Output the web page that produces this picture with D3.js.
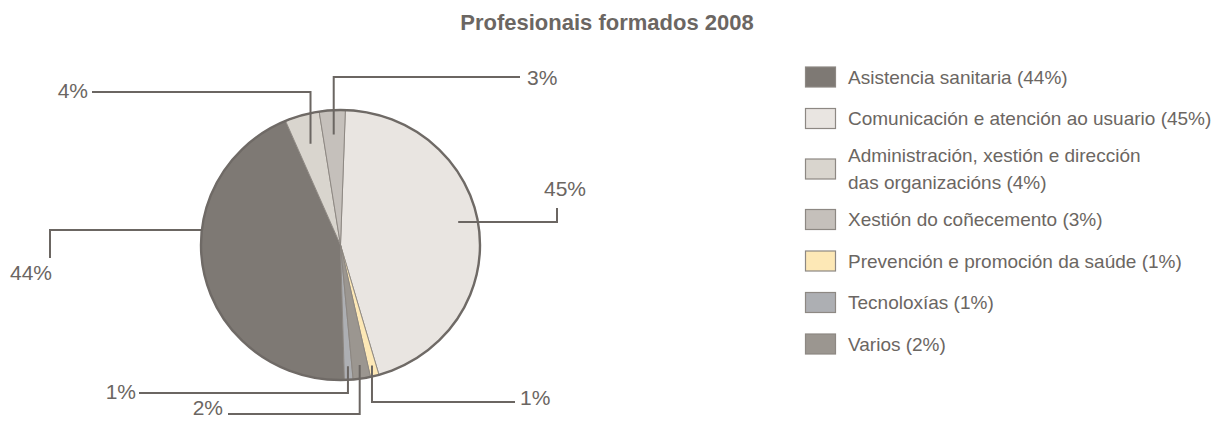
<!DOCTYPE html>
<html>
<head>
<meta charset="utf-8">
<script src="https://cdn.jsdelivr.net/npm/d3@7"></script>
<style>
  body { margin: 0; background: #fff; }
  svg { display: block; font-family: "Liberation Sans", Arial, sans-serif; }
</style>
</head>
<body>
<svg id="chart" width="1214" height="421"></svg>
<script>
// data, in legend order
const categories = [
  ['Asistencia sanitaria (44%)'],
  ['Comunicación e atención ao usuario (45%)'],
  ['Administración, xestión e dirección', 'das organizacións (4%)'],
  ['Xestión do coñecemento (3%)'],
  ['Prevención e promoción da saúde (1%)'],
  ['Tecnoloxías (1%)'],
  ['Varios (2%)']
];
const shares = [44, 45, 4, 3, 1, 1, 2];
const colors = ['#7e7974', '#e9e5e1', '#d9d5ce', '#c5c0bb', '#fde8b6', '#adafb3', '#9b9690'];
// clockwise order of slices, starting at twelve o'clock
const sliceOrder = [1, 4, 6, 5, 0, 2, 3];

const ink = '#6b6662';
const svg = d3.select('svg#chart');

svg.append('text')
  .attr('x', 607).attr('y', 30)
  .attr('text-anchor', 'middle')
  .attr('font-size', 22).attr('font-weight', 'bold')
  .attr('fill', ink)
  .text('Profesionais formados 2008');

// pie
const cx = 340.5, cy = 245, rx = 139.5, ry = 135;
const sy = ry / rx;
const deg = Math.PI / 180;

const pie = d3.pie()
  .value(i => shares[i])
  .sort((a, b) => sliceOrder.indexOf(a) - sliceOrder.indexOf(b))
  .startAngle(2 * deg)
  .endAngle(362 * deg);
const arcs = pie(d3.range(shares.length));
const arc = d3.arc().innerRadius(0).outerRadius(rx);

const g = svg.append('g')
  .attr('transform', `translate(${cx},${cy}) scale(1,${sy})`);

g.selectAll('path.slice').data(arcs)
  .enter().append('path')
    .attr('class', 'slice')
    .attr('d', arc)
    .attr('fill', d => colors[d.data])
    .attr('stroke', '#8a857f')
    .attr('stroke-width', 0.9)
    .attr('vector-effect', 'non-scaling-stroke');

g.append('ellipse')
  .attr('rx', rx).attr('ry', rx)
  .attr('fill', 'none')
  .attr('stroke', '#6f6a66')
  .attr('stroke-width', 2.4)
  .attr('vector-effect', 'non-scaling-stroke');

// point inside slice i, in page coords
const anchor = (i, k) => {
  const a = arcs.find(d => d.data === i);
  const m = (a.startAngle + a.endAngle) / 2;
  return [cx + Math.sin(m) * rx * k, cy - Math.cos(m) * ry * k];
};
const edgeX = (y) => cx - rx * Math.sqrt(1 - ((y - cy) / ry) ** 2);

const leaders = [];
const labels = [];
const pct = i => shares[i] + '%';

// small slices: label line runs level, then drops into the slice
const vertical = [
  { i: 2, level: 92, from: 92, tx: 88, ty: 98, anchorEnd: 'end', k: 0.78 },
  { i: 3, level: 77, from: 520, tx: 527, ty: 85, anchorEnd: 'start', k: 0.82 },
  { i: 5, level: 393, from: 139, tx: 136, ty: 399, anchorEnd: 'end', k: 0.9 },
  { i: 6, level: 414, from: 228, tx: 223, ty: 415, anchorEnd: 'end', k: 0.9 },
  { i: 4, level: 402, from: 515, tx: 520, ty: 405, anchorEnd: 'start', k: 0.92 }
];
vertical.forEach(v => {
  const [ax, ay] = anchor(v.i, v.k);
  leaders.push([[v.from, v.level], [ax, v.level], [ax, ay]]);
  labels.push({ x: v.tx, y: v.ty, anchor: v.anchorEnd, text: pct(v.i) });
});

// Comunicación
{
  const [ax, ay] = anchor(1, 0.85);
  const ly = ay - 9;
  leaders.push([[ax, ly], [557, ly], [557, ly - 14]]);
  labels.push({ x: 565, y: 196, anchor: 'middle', text: pct(1) });
}
// Asistencia
{
  const ly = 230;
  leaders.push([[50, ly + 28], [50, ly], [edgeX(ly), ly]]);
  labels.push({ x: 31, y: 280, anchor: 'middle', text: pct(0) });
}

svg.append('g').selectAll('path').data(leaders)
  .enter().append('path')
    .attr('d', d3.line())
    .attr('fill', 'none')
    .attr('stroke', ink)
    .attr('stroke-width', 2);

svg.append('g').selectAll('text').data(labels)
  .enter().append('text')
    .attr('x', d => d.x).attr('y', d => d.y)
    .attr('text-anchor', d => d.anchor)
    .attr('font-size', 21)
    .attr('fill', ink)
    .text(d => d.text);

// legend
const legend = svg.append('g').attr('transform', 'translate(805,0)');
let y = 77;
categories.forEach((lines, i) => {
  if (i > 0) y += 41.5 + 9 * (lines.length - 1) + 9 * (categories[i - 1].length - 1);
  const row = legend.append('g').attr('transform', `translate(0,${y})`);
  row.append('rect')
    .attr('x', 0.5).attr('y', -10)
    .attr('width', 30).attr('height', 20)
    .attr('fill', colors[i])
    .attr('stroke', '#8d8883')
    .attr('stroke-width', 1.2);
  const top = -(lines.length - 1) * 13.5;
  lines.forEach((t, j) => {
    row.append('text')
      .attr('x', 43).attr('y', top + j * 27 + 6.5)
      .attr('font-size', 19)
      .attr('fill', ink)
      .text(t);
  });
});
</script>
</body>
</html>
